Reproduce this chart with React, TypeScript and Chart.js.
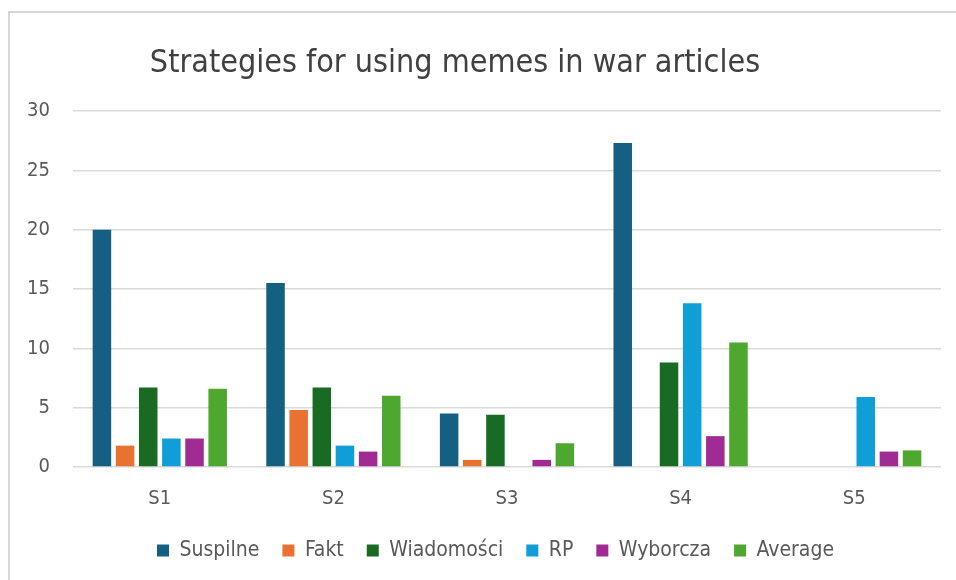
import React, { useEffect, useRef } from "react";
import { Chart, registerables } from "chart.js";

Chart.register(...registerables);

const TITLE = "Strategies for using memes in war articles";
const categories = ["S1", "S2", "S3", "S4", "S5"];
const suspilne = [20, 15.5, 4.5, 27.3, 0];
const fakt = [1.8, 4.8, 0.6, 0, 0];
const wiadomosci = [6.7, 6.7, 4.4, 8.8, 0];
const rp = [2.4, 1.8, 0, 13.8, 5.9];
const wyborcza = [2.4, 1.3, 0.6, 2.6, 1.3];
const average = [6.6, 6.0, 2.0, 10.5, 1.4];
const seriesNames = ["Suspilne", "Fakt", "Wiadomości", "RP", "Wyborcza", "Average"];
const seriesColors = ["#156082", "#E97132", "#196B24", "#0F9ED5", "#A02B93", "#4EA72E"];
const yMin = 0;
const yMax = 30;
const yStep = 5;

const FONT = '"Liberation Sans Narrow", "DejaVu Sans Condensed", Roboto, sans-serif';

const titlePlugin = {
  id: "customTitle",
  afterDraw(chart: any) {
    const ctx = chart.ctx;
    ctx.save();
    ctx.font = `32px ${FONT}`;
    ctx.fillStyle = "#404040";
    ctx.textAlign = "center";
    ctx.textBaseline = "alphabetic";
    ctx.fillText(TITLE, 455, 72);
    ctx.restore();
  },
};

const legendShiftPlugin = {
  id: "legendShift",
  afterLayout(chart: any) {
    const lg = chart.legend;
    if (lg) {
      lg.left += 25;
      lg.right += 25;
    }
  },
};

export default function App() {
  const ref = useRef<HTMLCanvasElement | null>(null);
  useEffect(() => {
    if (!ref.current) return;
    const seriesData = [suspilne, fakt, wiadomosci, rp, wyborcza, average];
    const chart = new Chart(ref.current, {
      type: "bar",
      data: {
        labels: categories,
        datasets: seriesNames.map((name, i) => ({
          label: name,
          data: seriesData[i],
          backgroundColor: seriesColors[i],
          borderWidth: 0,
          categoryPercentage: 0.8,
          barPercentage: 0.8,
        })),
      },
      options: {
        responsive: false,
        animation: false,
        devicePixelRatio: 1,
        layout: { padding: { top: 111, left: 0, right: 15, bottom: 9 } },
        plugins: {
          title: { display: false },
          tooltip: { enabled: false },
          legend: {
            position: "bottom",
            labels: {
              boxWidth: 12,
              boxHeight: 12,
              padding: 23,
              color: "#595959",
              font: { family: FONT, size: 21 },
            },
          },
        },
        scales: {
          x: {
            grid: { display: false, drawTicks: false },
            border: { display: false },
            ticks: { color: "#595959", font: { family: FONT, size: 20 }, padding: 20 },
            afterFit: (s: any) => { s.height = 50; },
          },
          y: {
            min: yMin,
            max: yMax,
            ticks: { stepSize: yStep, color: "#595959", font: { family: FONT, size: 20 }, padding: 23 },
            grid: { color: "#d9d9d9", lineWidth: 1.5, drawTicks: false },
            border: { display: false },
            afterFit: (s: any) => { s.width = 73; },
          },
        },
      },
      plugins: [titlePlugin, legendShiftPlugin],
    });
    return () => chart.destroy();
  }, []);

  return (
    <div style={{ position: "absolute", left: 0, top: 0, width: 956, height: 580, background: "#fff", overflow: "hidden" }}>
      <div style={{ position: "absolute", left: 8, top: 11, width: 946, height: 567, borderLeft: "2px solid #d6d6d6", borderTop: "2px solid #d6d6d6" }} />
      <canvas ref={ref} width={956} height={580} style={{ position: "absolute", left: 0, top: 0, width: 956, height: 580 }} />
    </div>
  );
}
